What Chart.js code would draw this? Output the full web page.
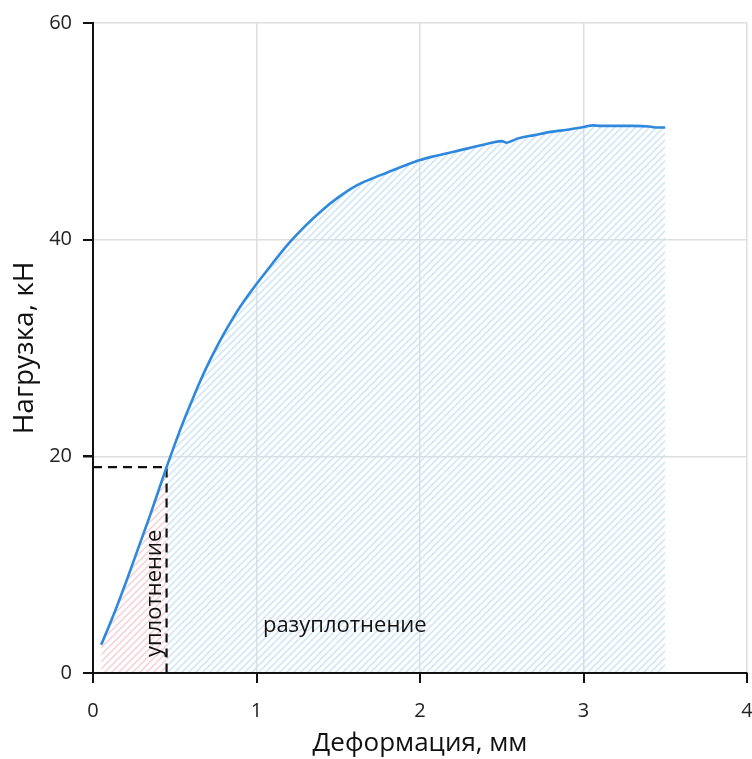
<!DOCTYPE html>
<html>
<head>
<meta charset="utf-8">
<script src="https://cdn.jsdelivr.net/npm/chart.js@4"></script>
<style>
  html, body { margin: 0; padding: 0; background: #fff; overflow: hidden; }
  #wrap { position: relative; width: 752px; height: 759px; }
</style>
</head>
<body>
<div id="wrap"><canvas id="loadChart"></canvas></div>
<script>
// deformation, mm
var deformation = [0.05, 0.10, 0.15, 0.20, 0.25, 0.30, 0.35, 0.40, 0.45, 0.50, 0.55, 0.60, 0.65, 0.70,
  0.75, 0.80, 0.85, 0.90, 0.95, 1.00, 1.10, 1.20, 1.30, 1.40, 1.50, 1.60, 1.70, 1.80, 1.90, 2.00,
  2.10, 2.20, 2.30, 2.40, 2.50, 2.53, 2.56, 2.60, 2.70, 2.80, 2.90, 3.00, 3.06, 3.10, 3.20, 3.30,
  3.40, 3.45, 3.50];
// load, kN
var load = [2.6, 4.4, 6.3, 8.3, 10.4, 12.5, 14.6, 16.8, 19.0, 21.1, 23.1, 24.95, 26.75, 28.4,
  29.9, 31.3, 32.6, 33.8, 34.9, 35.9, 37.85, 39.7, 41.3, 42.7, 43.9, 44.9, 45.6, 46.2, 46.8, 47.35,
  47.75, 48.1, 48.45, 48.8, 49.1, 48.95, 49.1, 49.35, 49.65, 49.95, 50.15, 50.4, 50.55, 50.5, 50.5, 50.5,
  50.45, 50.35, 50.35];

// boundary between compaction and decompaction
var compactionEnd = 0.45;
var compactionLoad = 19;

var xTicks = [0, 1, 2, 3, 4];
var yTicks = [0, 20, 40, 60];

var FONT = "'Open Sans', 'Noto Sans', sans-serif";

var points = deformation.map(function (x, i) { return { x: x, y: load[i] }; });

function hatch(color) {
  var c = document.createElement('canvas');
  c.width = 7; c.height = 7;
  var g = c.getContext('2d');
  g.strokeStyle = color;
  g.lineWidth = 1.5;
  g.beginPath();
  g.moveTo(-1, 8); g.lineTo(8, -1);
  g.moveTo(-1, 1); g.lineTo(1, -1);
  g.moveTo(6, 8); g.lineTo(8, 6);
  g.stroke();
  return g.createPattern(c, 'repeat');
}

// axis lines on top of the hatch, outside tick marks, zone captions
var extrasPlugin = {
  id: 'extras',
  afterDraw: function (chart) {
    var ctx = chart.ctx, xs = chart.scales.x, ys = chart.scales.y;
    var area = chart.chartArea;
    ctx.save();
    ctx.strokeStyle = '#111';
    ctx.lineWidth = 2;
    ctx.setLineDash([]);
    ctx.beginPath();
    ctx.moveTo(area.left, area.top); ctx.lineTo(area.left, area.bottom); ctx.lineTo(area.right, area.bottom);
    xTicks.forEach(function (v) {
      var px = Math.round(xs.getPixelForValue(v));
      ctx.moveTo(px, area.bottom); ctx.lineTo(px, area.bottom + 10);
    });
    yTicks.forEach(function (v) {
      var py = Math.round(ys.getPixelForValue(v));
      ctx.moveTo(area.left - 10, py); ctx.lineTo(area.left, py);
    });
    ctx.stroke();

    ctx.fillStyle = '#111';
    ctx.font = '22px ' + FONT;
    ctx.textAlign = 'center';
    ctx.textBaseline = 'middle';
    ctx.fillText('разуплотнение', xs.getPixelForValue(1.54), ys.getPixelForValue(4.4));
    ctx.translate(xs.getPixelForValue(0.375), ys.getPixelForValue(7.35));
    ctx.rotate(-Math.PI / 2);
    ctx.fillText('уплотнение', 0, 0);
    ctx.restore();
  }
};

var config = {
  type: 'line',
  data: {
    datasets: [
      {
        label: 'main',
        data: points,
        borderColor: 'rgb(46,136,222)',
        borderWidth: 2.6,
        pointRadius: 0,
        cubicInterpolationMode: 'monotone',
        fill: false,
        order: 0
      },
      {
        label: 'compaction',
        data: points.filter(function (p) { return p.x <= compactionEnd; }),
        borderColor: 'rgba(0,0,0,0)',
        borderWidth: 0,
        pointRadius: 0,
        cubicInterpolationMode: 'monotone',
        fill: 'origin',
        backgroundColor: hatch('rgba(242,196,206,0.8)'),
        order: 2
      },
      {
        label: 'decompaction',
        data: points.filter(function (p) { return p.x >= compactionEnd; }),
        borderColor: 'rgba(0,0,0,0)',
        borderWidth: 0,
        pointRadius: 0,
        cubicInterpolationMode: 'monotone',
        fill: 'origin',
        backgroundColor: hatch('rgba(200,226,243,0.9)'),
        order: 2
      },
      {
        label: 'boundary',
        data: [{ x: 0, y: compactionLoad }, { x: compactionEnd, y: compactionLoad }, { x: compactionEnd, y: 0 }],
        borderColor: '#111',
        borderWidth: 2.2,
        borderDash: [9, 6],
        pointRadius: 0,
        fill: false,
        order: 1
      }
    ]
  },
  options: {
    responsive: true,
    maintainAspectRatio: false,
    animation: false,
    layout: { padding: { top: 16, right: 0, left: 0, bottom: 0 } },
    plugins: {
      legend: { display: false },
      tooltip: { enabled: false }
    },
    scales: {
      x: {
        type: 'linear',
        min: 0, max: 4,
        afterBuildTicks: function (axis) { axis.ticks = xTicks.map(function (v) { return { value: v }; }); },
        afterFit: function (axis) { axis.height = 86; axis.paddingLeft = 0; axis.paddingRight = 5; },
        grid: { color: '#dedede', lineWidth: 1.5, tickColor: '#111', tickLength: 10 },
        border: { color: '#111', width: 2 },
        ticks: { color: '#222', font: { family: FONT, size: 20 }, padding: 16 },
        title: { display: true, text: 'Деформация, мм', color: '#111', font: { family: FONT, size: 26 }, padding: { top: 0, bottom: 0 } }
      },
      y: {
        min: 0, max: 60,
        afterBuildTicks: function (axis) { axis.ticks = yTicks.map(function (v) { return { value: v }; }); },
        afterFit: function (axis) { axis.width = 93; },
        grid: { color: '#dedede', lineWidth: 1.5, tickColor: '#111', tickLength: 10 },
        border: { color: '#111', width: 2 },
        ticks: { color: '#222', font: { family: FONT, size: 20 }, padding: 11 },
        title: { display: true, text: 'Нагрузка, кН', color: '#111', font: { family: FONT, size: 28 }, padding: { top: 8, bottom: 4 } }
      }
    }
  },
  plugins: [extrasPlugin]
};

var chart = new Chart(document.getElementById('loadChart'), config);
</script>
</body>
</html>
